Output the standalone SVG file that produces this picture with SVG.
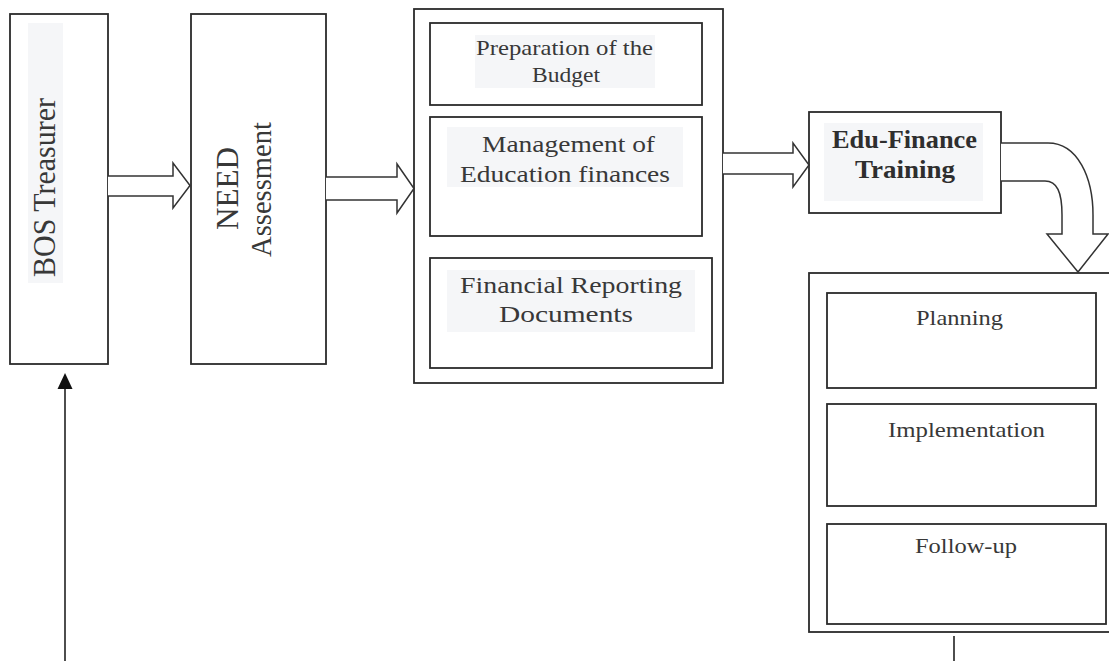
<svg xmlns="http://www.w3.org/2000/svg" width="1109" height="661" viewBox="0 0 1109 661">
<style>
.box{fill:#fff;stroke:#2b2b2b;stroke-width:1.8}
.hl{fill:#f5f6f8;stroke:none}
.t{font-family:'Liberation Serif','Times New Roman',serif;fill:#383838;text-anchor:middle}
.b{font-weight:bold;fill:#2e2e2e}
.blk{fill:#fff;stroke:#333;stroke-width:1.5;stroke-linejoin:miter}
.ln{fill:none;stroke:#222;stroke-width:1.6}
</style>
<defs>
<marker id="ah" markerWidth="16" markerHeight="16" refX="14" refY="8" orient="auto" markerUnits="userSpaceOnUse" viewBox="0 0 16 16">
<path d="M0,0.5 L16,8 L0,15.5 Z" fill="#111"/>
</marker>
</defs>
<rect width="1109" height="661" fill="#fff"/>

<g id="bos">
<rect class="box" x="10" y="14" width="98" height="350"/>
<rect class="hl" x="28" y="23" width="35" height="260"/>
<text class="t" font-size="31" textLength="179" lengthAdjust="spacingAndGlyphs" transform="translate(55,187.5) rotate(-90)">BOS Treasurer</text>
</g>

<g id="need">
<rect class="box" x="191" y="14" width="135" height="350"/>
<text class="t" font-size="31" textLength="83" lengthAdjust="spacingAndGlyphs" transform="translate(238,188.5) rotate(-90)">NEED</text>
<text class="t" font-size="30" textLength="135" lengthAdjust="spacingAndGlyphs" transform="translate(271,189.5) rotate(-90)">Assessment</text>
</g>

<g id="finance-management">
<rect class="box" x="414" y="9" width="309" height="374"/>
<rect class="box" x="430" y="23" width="272" height="82"/>
<rect class="hl" x="475" y="35" width="180" height="53"/>
<text class="t" font-size="21" x="564.5" y="55" textLength="177" lengthAdjust="spacingAndGlyphs">Preparation of the</text>
<text class="t" font-size="21" x="566" y="82" textLength="68" lengthAdjust="spacingAndGlyphs">Budget</text>
<rect class="box" x="430" y="117" width="272" height="119"/>
<rect class="hl" x="447" y="127" width="236" height="60"/>
<text class="t" font-size="23" x="568.5" y="152" textLength="173" lengthAdjust="spacingAndGlyphs">Management of</text>
<text class="t" font-size="23" x="565" y="182" textLength="210" lengthAdjust="spacingAndGlyphs">Education finances</text>
<rect class="box" x="430" y="258" width="282" height="110"/>
<rect class="hl" x="447" y="270" width="248" height="62"/>
<text class="t" font-size="23" x="571" y="293" textLength="222" lengthAdjust="spacingAndGlyphs">Financial Reporting</text>
<text class="t" font-size="23" x="566" y="322" textLength="134" lengthAdjust="spacingAndGlyphs">Documents</text>
</g>

<g id="edu-finance-training">
<rect class="box" x="809" y="112" width="192" height="101"/>
<rect class="hl" x="824" y="123" width="159" height="78"/>
<text class="t b" font-size="26" x="904.5" y="148" textLength="145" lengthAdjust="spacingAndGlyphs">Edu-Finance</text>
<text class="t b" font-size="26" x="905" y="178" textLength="100" lengthAdjust="spacingAndGlyphs">Training</text>
</g>

<g id="cycle">
<rect class="box" x="809" y="273" width="310" height="359"/>
<rect class="box" x="827" y="293" width="269" height="95"/>
<text class="t" font-size="22" x="959.5" y="325" textLength="87" lengthAdjust="spacingAndGlyphs">Planning</text>
<rect class="box" x="827" y="404" width="269" height="102"/>
<text class="t" font-size="22" x="966.5" y="437" textLength="157" lengthAdjust="spacingAndGlyphs">Implementation</text>
<rect class="box" x="827" y="524" width="279" height="100"/>
<text class="t" font-size="22" x="966" y="553" textLength="102" lengthAdjust="spacingAndGlyphs">Follow-up</text>
</g>

<g id="connectors">
<path class="blk" d="M108,176 H173 V163 L190,185.5 L173,208 V196 H108"/>
<path class="blk" d="M326,177 H397 V164 L414,188.5 L397,213 V200 H326"/>
<path class="blk" d="M723,153 H793 V143 L809,165 L793,187 V174 H723"/>
<path class="blk" d="M1001,143 H1048 C1078,143 1093,178 1093,215 V234 H1108 L1078,272 L1047,234 H1062 V215 C1062,192 1057,181 1045,181 H1001"/>
<path class="ln" d="M954,636 V664 H65 V375" marker-end="url(#ah)"/>
</g>
</svg>
